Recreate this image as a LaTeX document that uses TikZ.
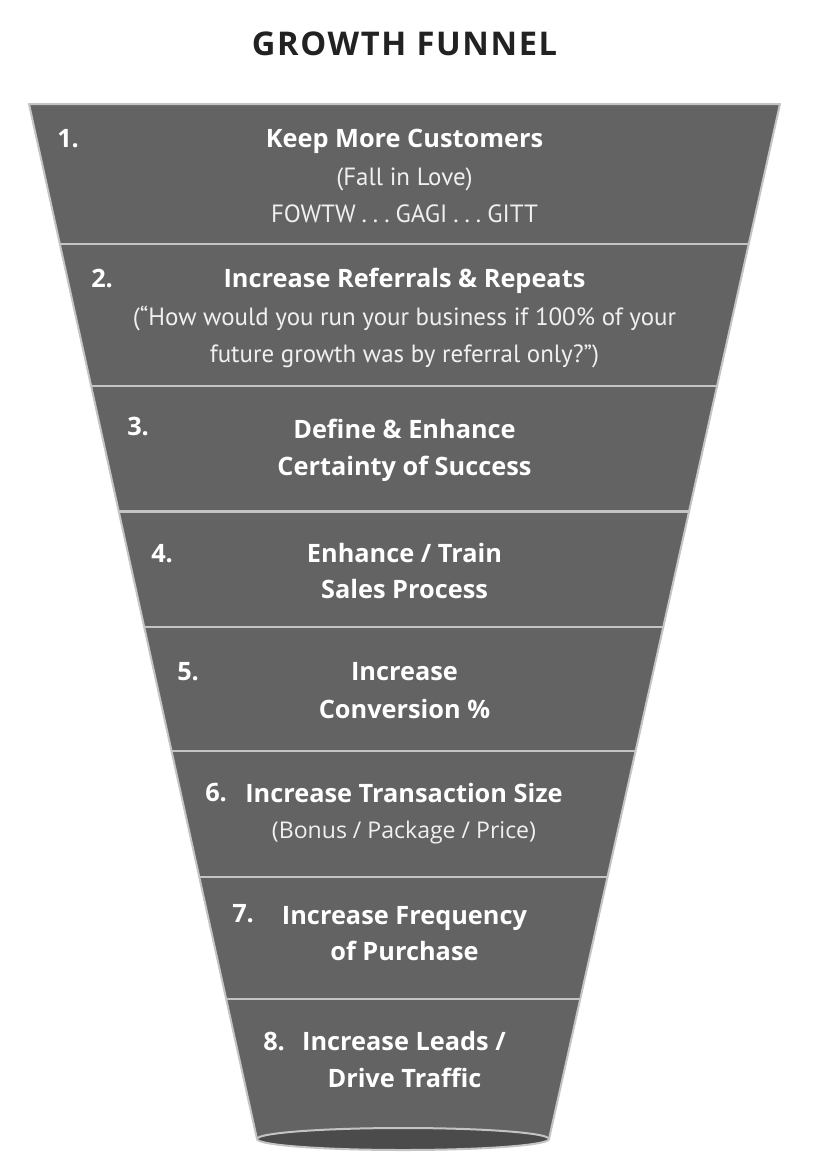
\documentclass[tikz,border=0pt]{standalone}
\usepackage{fontspec}
\setmainfont{Open Sans}
\newfontfamily\titlefont{Open Sans}[LetterSpace=5]
\newfontfamily\narrowfont{PT Sans}
\usetikzlibrary{calc}
\definecolor{funfill}{HTML}{636363}
\definecolor{funedge}{HTML}{C4C4C4}
\definecolor{ellfill}{HTML}{4B4B4B}
\definecolor{titlecol}{HTML}{222222}
\begin{document}
\begin{tikzpicture}[x=0.75pt,y=-0.75pt,
  boldtxt/.style={text=white,font=\fontsize{19}{23}\selectfont\bfseries,anchor=base,inner sep=0pt},
  regtxt/.style={text=white!94!black,font=\fontsize{17.3}{21}\selectfont,anchor=base,inner sep=0pt},
  narrowtxt/.style={text=white!94!black,font=\narrowfont\fontsize{18.7}{22}\selectfont,anchor=base,inner sep=0pt},
  numtxt/.style={text=white,font=\fontsize{19}{23}\selectfont\bfseries,anchor=base west,inner sep=0pt},
  sepline/.style={draw=funedge,line width=2.2pt},
  edgeline/.style={draw=funedge,line width=1.5pt,line join=round}]
\useasboundingbox (0,0) rectangle (815,1174);
\coordinate (TL) at (29,104);
\coordinate (TR) at (780,104);
\coordinate (BL) at (257,1139);
\coordinate (BR) at (549,1139);
\coordinate (EC) at (403,1139);
\fill[funfill] (TL) -- (TR) -- (BR) -- (BL) -- cycle;
\foreach \yy [count=\i] in {244,386,511.5,627,751,877,999}{
  \coordinate (sl\i) at ($(TL)!{(\yy-104)/1035}!(BL)$);
  \coordinate (sr\i) at ($(TR)!{(\yy-104)/1035}!(BR)$);
  \draw[sepline] (sl\i) -- (sr\i);
}
\draw[edgeline] (BL) -- (TL) -- (TR) -- (BR);
\draw[edgeline,fill=ellfill] (EC) ellipse [x radius=146, y radius=11];

\node[font=\titlefont\fontsize{24.5}{28}\selectfont\bfseries,text=titlecol,anchor=base,inner sep=0pt] (title) at (404.5,55) {GROWTH FUNNEL};

% band 1
\node[numtxt] (n1) at (57,147) {1.};
\node[boldtxt] (t1a) at (404.5,147) {Keep More Customers};
\node[narrowtxt] (t1b) at (404.5,185.5) {(Fall in Love)};
\node[narrowtxt] (t1c) at (404.5,222) {FOWTW\hspace{0.24em}.\hspace{0.24em}.\hspace{0.24em}.\hspace{0.24em}GAGI\hspace{0.24em}.\hspace{0.24em}.\hspace{0.24em}.\hspace{0.24em}GITT};
% band 2
\node[numtxt] (n2) at (91,287) {2.};
\node[boldtxt] (t2a) at (404.5,287) {Increase Referrals \& Repeats};
\node[narrowtxt] (t2b) at (404.5,325) {(“How would you run your business if 100\% of your};
\node[narrowtxt] (t2c) at (404.5,362) {future growth was by referral only?”)};
% band 3
\node[numtxt] (n3) at (127,435) {3.};
\node[boldtxt] (t3a) at (404.5,438) {Define \& Enhance};
\node[boldtxt] (t3b) at (404.5,475) {Certainty of Success};
% band 4
\node[numtxt] (n4) at (151,562) {4.};
\node[boldtxt] (t4a) at (404.5,562) {Enhance / Train};
\node[boldtxt] (t4b) at (404.5,598) {Sales Process};
% band 5
\node[numtxt] (n5) at (177,680) {5.};
\node[boldtxt] (t5a) at (404.5,680) {Increase};
\node[boldtxt] (t5b) at (404.5,718) {Conversion \%};
% band 6
\node[numtxt] (n6) at (205,801) {6.};
\node[boldtxt] (t6a) at (404,802.5) {Increase Transaction Size};
\node[regtxt] (t6b) at (404,838) {(Bonus / Package / Price)};
% band 7
\node[numtxt] (n7) at (232,922.5) {7.};
\node[boldtxt] (t7a) at (404.5,924) {Increase Frequency};
\node[boldtxt] (t7b) at (404.5,960.5) {of Purchase};
% band 8
\node[numtxt] (n8) at (263,1050.5) {8.};
\node[boldtxt] (t8a) at (404,1050.5) {Increase Leads /};
\node[boldtxt] (t8b) at (404.5,1087) {Drive Traffic};
\end{tikzpicture}
\end{document}
